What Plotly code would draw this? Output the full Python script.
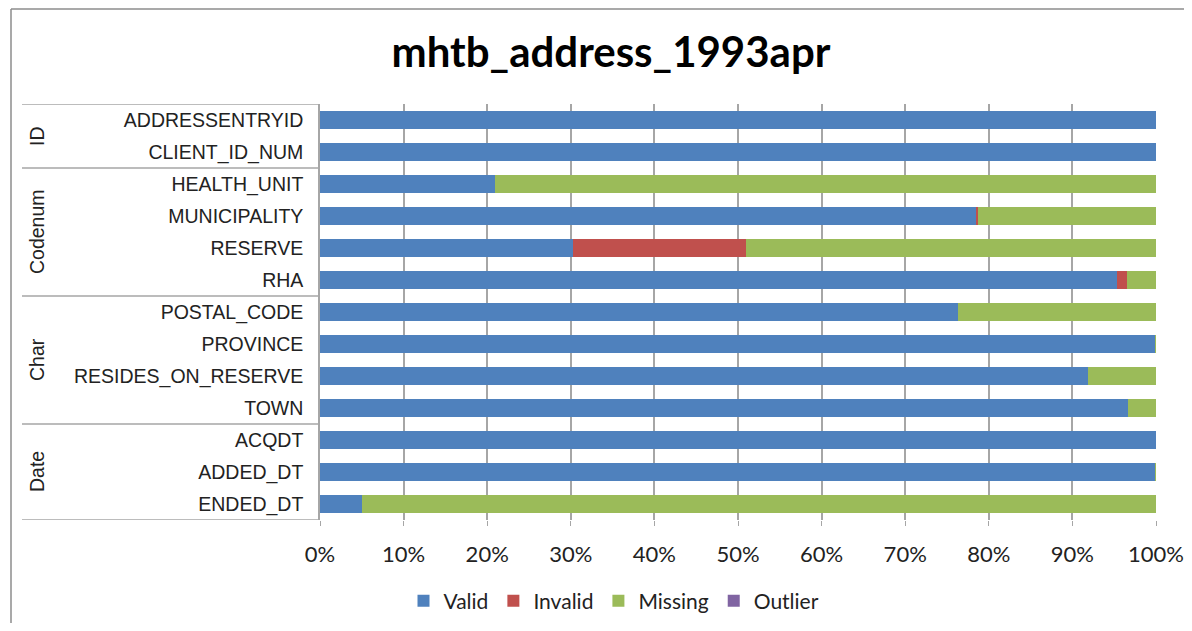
import plotly.graph_objects as go

groups = ["ID", "Codenum", "Char", "Date"]
group_members = [
    ["ADDRESSENTRYID", "CLIENT_ID_NUM"],
    ["HEALTH_UNIT", "MUNICIPALITY", "RESERVE", "RHA"],
    ["POSTAL_CODE", "PROVINCE", "RESIDES_ON_RESERVE", "TOWN"],
    ["ACQDT", "ADDED_DT", "ENDED_DT"],
]
fields = [f for g in group_members for f in g]

valid   = [100, 100, 20.9, 78.5, 30.3, 95.3, 76.3, 99.9, 91.9, 96.7, 100, 99.9, 5.0]
invalid = [0, 0, 0, 0.2, 20.7, 1.2, 0, 0, 0, 0, 0, 0, 0]
missing = [0, 0, 79.1, 21.3, 49.0, 3.5, 23.7, 0.1, 8.1, 3.3, 0, 0.1, 95.0]
outlier = [0] * 13

series = [
    ("Valid", valid, "#4F81BD"),
    ("Invalid", invalid, "#C0504D"),
    ("Missing", missing, "#9BBB59"),
    ("Outlier", outlier, "#8064A2"),
]

OFF = 8  # page body margin
W, H = 1192 - 2 * OFF, 631 - 2 * OFF
L, T = 320 - OFF, 104 - OFF
R = W - (1156 - OFF)
B = H - (520 - OFF)
pw = W - L - R
ph = H - T - B

def px2x(x):
    return (x - OFF - L) / pw

def px2y(y):
    return 1 - (y - OFF - T) / ph

fig = go.Figure()
for name, vals, color in series:
    fig.add_trace(go.Bar(
        y=list(range(len(fields))), x=vals, name=name, orientation="h",
        marker=dict(color=color, line=dict(width=0)), width=0.55,
    ))

n = len(fields)
fig.update_layout(
    barmode="stack",
    width=W, height=H,
    margin=dict(l=L, r=R, t=T, b=B, autoexpand=False),
    paper_bgcolor="white", plot_bgcolor="white",
    title=dict(text="<b>mhtb_address_1993apr</b>", x=(611 - OFF) / W, xref="container",
               xanchor="center", y=1 - (52 - OFF) / H, yref="container", yanchor="middle",
               font=dict(family="Lato, sans-serif", size=42, color="black")),
    legend=dict(orientation="h", x=px2x(614), xref="paper", xanchor="center",
                y=px2y(601), yanchor="middle",
                font=dict(family="Lato, sans-serif", size=21, color="#222"),
                traceorder="normal"),
    font=dict(family="Liberation Sans, Arial, sans-serif", size=19.5, color="#222"),
)
fig.update_xaxes(range=[0, 100], dtick=10, ticksuffix="%", showgrid=True,
                 gridcolor="#A6A6A6", gridwidth=1.5, zeroline=False,
                 ticks="outside", ticklen=5, tickcolor="#A6A6A6",
                 ticklabelstandoff=10, automargin=False,
                 tickfont=dict(family="Lato, sans-serif", size=22, color="#222"),
                 showline=False, fixedrange=True)
fig.update_yaxes(range=[n - 0.5, -0.5], tickmode="array", tickvals=list(range(n)),
                 ticktext=fields, showgrid=False, zeroline=False, automargin=False,
                 ticks="", ticklabelstandoff=11, tickfont=dict(size=19.5),
                 showline=True, linecolor="#A6A6A6", linewidth=1.5)

# group separators and labels
start = 0
bounds = [-0.5]
for g, members in zip(groups, group_members):
    end = start + len(members)
    bounds.append(end - 0.5)
    fig.add_annotation(text=g, textangle=-90, xref="paper", yref="y",
                       x=px2x(37), xanchor="center", y=(start + end - 1) / 2,
                       yanchor="middle", showarrow=False,
                       font=dict(size=19.5, color="#222"))
    start = end
for b in bounds:
    fig.add_shape(type="line", xref="paper", yref="y", x0=px2x(22), x1=px2x(318),
                  y0=b, y1=b, line=dict(color="#A6A6A6", width=1.5))

# outer chart border (left and top edges visible)
fig.add_shape(type="line", xref="paper", yref="paper",
              x0=px2x(11), x1=px2x(11), y0=px2y(640), y1=px2y(9),
              line=dict(color="#8C8C8C", width=1.5))
fig.add_shape(type="line", xref="paper", yref="paper",
              x0=px2x(11), x1=px2x(1200), y0=px2y(9), y1=px2y(9),
              line=dict(color="#8C8C8C", width=1.5))

fig.write_html("out.html")
